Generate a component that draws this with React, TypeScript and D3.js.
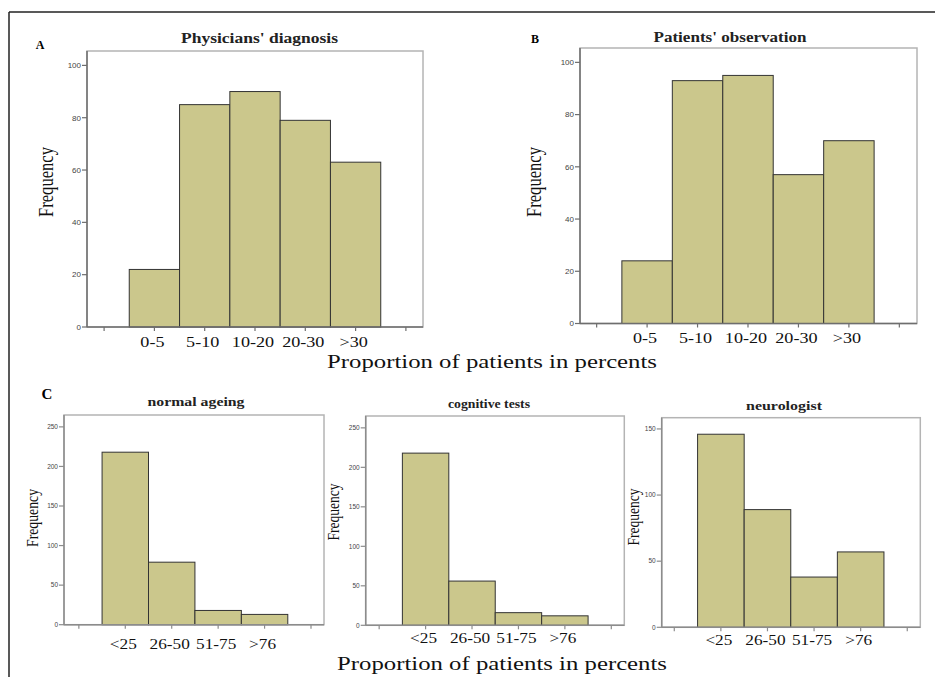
import React from "react";
import * as d3 from "d3";

// data
const abCategories = ["0-5", "5-10", "10-20", "20-30", ">30"];
const physiciansValues = [22, 85, 90, 79, 63];
const patientsValues = [24, 93, 95, 57, 70];
const abTicks = [0, 20, 40, 60, 80, 100];

const cCategories = ["<25", "26-50", "51-75", ">76"];
const normalAgeingValues = [218, 79, 18, 13];
const cognitiveTestsValues = [218, 56, 16, 12];
const neurologistValues = [146, 89, 38, 57];
const cTicks = [0, 50, 100, 150, 200, 250];
const neuroTicks = [0, 50, 100, 150];

const BAR_FILL = "#cbc78c";
const SERIF = "'Liberation Serif', 'Times New Roman', serif";

type PanelProps = {
  title: string;
  categories: string[];
  values: number[];
  ticks: number[];
  yMax: number;
  box: { left: number; right: number; top: number; bottom: number };
  pad: [number, number];
  titleX: number;
  titleY: number;
  titleSize: number;
  titleLen: number;
  labelOffset: number;
  labelSize: number;
  labelStretch: number;
  freqX: number;
  freqY: number;
  freqSize: number;
  freqLen: number;
  tickFont: number;
  axisColor: string;
};

const Panel = (p: PanelProps) => {
  const n = p.categories.length;
  const x = d3
    .scaleLinear()
    .domain([-p.pad[0], n + 1 + p.pad[1]])
    .range([p.box.left, p.box.right]);
  const y = d3.scaleLinear().domain([0, p.yMax]).range([p.box.bottom, p.box.top]);
  const bw = x(1) - x(0);
  const positions = d3.range(n + 2);

  return (
    <g>
      <text
        x={p.titleX}
        y={p.titleY}
        textAnchor="middle"
        fontFamily={SERIF}
        fontWeight="bold"
        fontSize={p.titleSize}
        textLength={p.titleLen}
        lengthAdjust="spacingAndGlyphs"
        fill="#222"
      >
        {p.title}
      </text>
      <rect
        x={p.box.left}
        y={p.box.top}
        width={p.box.right - p.box.left}
        height={p.box.bottom - p.box.top}
        fill="#fff"
        stroke="#b4b4b4"
        strokeWidth={1.5}
      />
      {/* bars */}
      {p.values.map((v, i) => (
        <rect
          key={i}
          x={x(i + 1) - bw / 2}
          y={y(v)}
          width={bw}
          height={y(0) - y(v)}
          fill={BAR_FILL}
          stroke="#333"
          strokeWidth={1}
        />
      ))}
      {/* axes */}
      <line x1={p.box.left} x2={p.box.right} y1={y(0)} y2={y(0)} stroke={p.axisColor} strokeWidth={1.5} />
      <line x1={p.box.left} x2={p.box.left} y1={p.box.top} y2={y(0)} stroke={p.axisColor} strokeWidth={1.5} />
      {p.ticks.map((t) => (
        <g key={t}>
          <line x1={p.box.left - 5} x2={p.box.left} y1={y(t)} y2={y(t)} stroke={p.axisColor} strokeWidth={1.2} />
          <text
            x={p.box.left - 6}
            y={y(t)}
            dy="0.35em"
            textAnchor="end"
            fontFamily="'Liberation Sans', Arial, sans-serif"
            fontSize={p.tickFont}
            fill="#444"
          >
            {t}
          </text>
        </g>
      ))}
      {positions.map((k) => (
        <line key={k} x1={x(k)} x2={x(k)} y1={y(0)} y2={y(0) + 4} stroke={p.axisColor} strokeWidth={1.2} />
      ))}
      {p.categories.map((c, i) => (
        <text
          key={c}
          transform={`translate(${x(i + 1) - 2},${y(0) + p.labelOffset}) scale(${p.labelStretch},1)`}
          textAnchor="middle"
          fontFamily={SERIF}
          fontSize={p.labelSize}
          fill="#111"
        >
          {c}
        </text>
      ))}
      <text
        transform={`translate(${p.freqX},${p.freqY}) rotate(-90)`}
        textAnchor="middle"
        dy="0.35em"
        fontFamily={SERIF}
        fontSize={p.freqSize}
        textLength={p.freqLen}
        lengthAdjust="spacingAndGlyphs"
        fill="#111"
      >
        Frequency
      </text>
    </g>
  );
};

const App = () => {
  return (
    <svg
      width={935}
      height={677}
      style={{ position: "absolute", left: 0, top: 0, background: "#fff" }}
    >
      <line x1={9} x2={935} y1={12} y2={12} stroke="#222" strokeWidth={1.5} />
      <line x1={9} x2={9} y1={12} y2={677} stroke="#222" strokeWidth={1.5} />

      <text x={40} y={49} textAnchor="middle" fontFamily={SERIF} fontWeight="bold" fontSize={12}>A</text>
      <text x={535} y={43} textAnchor="middle" fontFamily={SERIF} fontWeight="bold" fontSize={12}>B</text>
      <text x={47} y={399} textAnchor="middle" fontFamily={SERIF} fontWeight="bold" fontSize={15}>C</text>

      <Panel
        title="Physicians' diagnosis"
        categories={abCategories}
        values={physiciansValues}
        ticks={abTicks}
        yMax={105.5}
        box={{ left: 87, right: 423, top: 51, bottom: 327 }}
        pad={[0.34, 0.34]}
        titleX={259.5}
        titleY={43}
        titleSize={14}
        titleLen={157}
        labelOffset={20}
        labelSize={14.5}
        labelStretch={1.25}
        freqX={45}
        freqY={182}
        freqSize={22}
        freqLen={70}
        tickFont={8}
        axisColor="#6e6e6e"
      />
      <Panel
        title="Patients' observation"
        categories={abCategories}
        values={patientsValues}
        ticks={abTicks}
        yMax={105.5}
        box={{ left: 580, right: 917, top: 48, bottom: 323.5 }}
        pad={[0.33, 0.35]}
        titleX={730}
        titleY={42}
        titleSize={14}
        titleLen={153}
        labelOffset={19}
        labelSize={14.5}
        labelStretch={1.25}
        freqX={533}
        freqY={182}
        freqSize={22}
        freqLen={70}
        tickFont={8}
        axisColor="#6e6e6e"
      />
      <text x={492} y={368} textAnchor="middle" fontFamily={SERIF} fontSize={19.5} textLength={330} lengthAdjust="spacingAndGlyphs" fill="#111">
        Proportion of patients in percents
      </text>

      <Panel
        title="normal ageing"
        categories={cCategories}
        values={normalAgeingValues}
        ticks={cTicks}
        yMax={265}
        box={{ left: 64, right: 324, top: 415, bottom: 624.7 }}
        pad={[0.32, 0.28]}
        titleX={196}
        titleY={406}
        titleSize={13}
        titleLen={97}
        labelOffset={24}
        labelSize={15}
        labelStretch={1.15}
        freqX={32}
        freqY={518}
        freqSize={16}
        freqLen={58}
        tickFont={6.5}
        axisColor="#8c8c8c"
      />
      <Panel
        title="cognitive tests"
        categories={cCategories}
        values={cognitiveTestsValues}
        ticks={cTicks}
        yMax={265}
        box={{ left: 365.7, right: 624.3, top: 416, bottom: 625.3 }}
        pad={[0.29, 0.28]}
        titleX={489}
        titleY={408}
        titleSize={12}
        titleLen={82}
        labelOffset={18}
        labelSize={15}
        labelStretch={1.15}
        freqX={333}
        freqY={512}
        freqSize={16}
        freqLen={57}
        tickFont={6.5}
        axisColor="#8c8c8c"
      />
      <Panel
        title="neurologist"
        categories={cCategories}
        values={neurologistValues}
        ticks={neuroTicks}
        yMax={158.5}
        box={{ left: 661.7, right: 920.3, top: 417.7, bottom: 627.3 }}
        pad={[0.27, 0.28]}
        titleX={784}
        titleY={410}
        titleSize={13}
        titleLen={76}
        labelOffset={18}
        labelSize={15}
        labelStretch={1.15}
        freqX={633}
        freqY={517}
        freqSize={16}
        freqLen={57}
        tickFont={6.5}
        axisColor="#8c8c8c"
      />
      <text x={502} y={670} textAnchor="middle" fontFamily={SERIF} fontSize={19.5} textLength={330} lengthAdjust="spacingAndGlyphs" fill="#111">
        Proportion of patients in percents
      </text>
    </svg>
  );
};

export default App;
